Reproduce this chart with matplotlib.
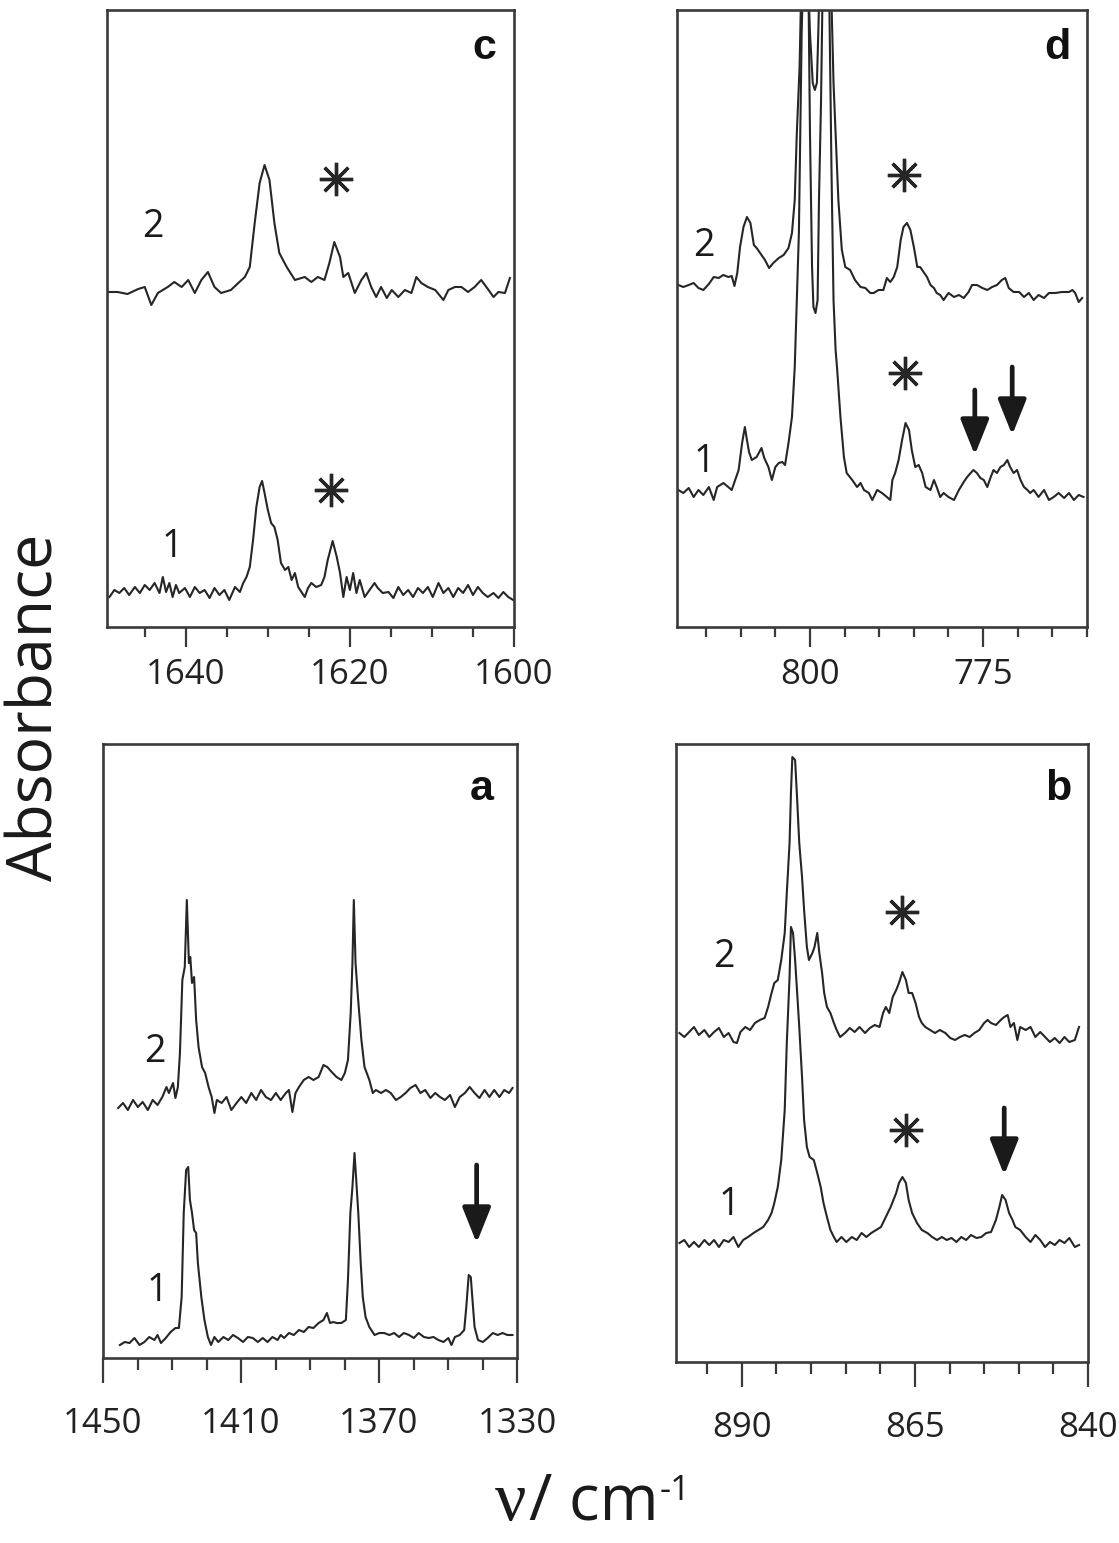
import numpy as np
import matplotlib
matplotlib.use("Agg")
import matplotlib.pyplot as plt
from matplotlib.ticker import MultipleLocator

plt.rcParams['font.family'] = ['Open Sans', 'DejaVu Sans']

# ---- panel c (1650-1600 cm-1) ----
c2_x = [1649.5,1648.3,1647.1,1645.8,1645.0,1644.2,1643.4,1642.2,1641.4,1640.5,
        1639.7,1638.9,1638.1,1637.3,1636.5,1635.7,1634.5,1633.6,1632.8,1632.2,
        1631.6,1631.0,1630.4,1629.8,1629.2,1628.6,1627.7,1626.7,1625.5,1624.7,
        1623.9,1623.1,1622.5,1621.9,1621.2,1620.8,1620.2,1619.4,1618.6,1618.0,
        1617.4,1616.8,1616.2,1615.5,1614.9,1614.1,1613.3,1612.5,1611.9,1611.3,
        1610.5,1609.6,1608.6,1608.0,1607.2,1606.4,1605.6,1604.8,1604.0,1603.1,
        1602.5,1601.9,1601.1,1600.5]
c2_y = [335,335,333,338,340,322,334,340,345,340,
        347,334,347,355,340,334,337,344,350,360,
        404,444,462,447,404,374,360,347,350,345,
        350,347,364,385,370,350,354,334,347,354,
        340,330,340,329,337,330,337,334,350,344,
        340,337,327,337,340,340,335,340,347,337,
        330,335,334,349]
c1_x = [1649.3,1648.7,1648.1,1647.5,1646.9,1646.2,1645.6,1645.0,1644.4,1643.8,
        1643.2,1642.8,1642.4,1642.0,1641.6,1641.2,1640.8,1640.1,1639.5,1638.9,
        1638.3,1637.7,1637.1,1636.5,1635.9,1635.3,1634.7,1634.0,1633.4,1633.0,
        1632.6,1632.2,1631.8,1631.4,1631.0,1630.7,1630.4,1630.0,1629.6,1629.2,
        1628.8,1628.4,1627.9,1627.5,1627.1,1626.7,1626.3,1625.9,1625.5,1625.1,
        1624.7,1624.1,1623.5,1623.1,1622.7,1622.1,1621.6,1621.2,1620.8,1620.4,
        1620.0,1619.6,1619.2,1618.8,1618.2,1617.6,1617.0,1616.6,1616.0,1615.3,
        1614.7,1614.1,1613.5,1612.9,1612.3,1611.7,1611.1,1610.5,1609.9,1609.2,
        1608.6,1608.0,1607.4,1606.8,1606.2,1605.6,1605.0,1604.4,1603.8,1603.2,
        1602.5,1601.9,1601.3,1600.7,1600.1]
c1_y = [30,37,34,39,32,40,34,42,37,44,
        34,50,35,44,30,42,34,39,30,40,
        34,37,29,39,32,37,27,40,35,44,
        50,60,87,120,140,146,134,117,104,100,
        87,64,57,60,47,54,40,35,30,39,
        44,40,42,50,67,86,70,54,30,50,
        37,54,34,47,30,37,44,39,34,35,
        29,40,32,37,30,39,34,40,30,44,
        34,39,30,39,34,42,32,40,34,30,
        34,29,35,30,27]

# ---- panel d (820-760 cm-1) ----
d2_x = [819.0,818.3,817.5,816.8,816.1,815.4,814.6,813.9,813.2,812.5,
        811.8,811.3,810.9,810.5,810.1,809.6,809.1,808.6,808.1,807.7,
        807.2,806.5,805.9,805.3,804.5,803.8,803.1,802.6,802.2,801.9,
        801.5,801.3,800.9,800.4,800.2,800.0,799.7,799.5,799.2,798.9,
        798.7,798.4,798.2,797.9,797.3,796.9,796.6,796.2,795.9,795.4,
        794.9,794.2,793.5,792.7,792.0,791.3,790.8,790.1,789.4,788.9,
        788.4,787.9,787.4,786.9,786.5,786.0,785.5,785.0,784.5,784.1,
        783.6,783.1,782.6,782.1,781.7,781.2,780.7,780.0,779.2,778.5,
        777.8,777.1,776.6,775.9,775.1,774.4,773.7,773.0,772.3,771.8,
        771.3,770.6,769.8,769.1,768.4,767.7,767.0,766.2,765.5,764.6,
        763.6,762.6,762.1,761.7,761.2,760.7]
d2_y = [342,340,342,344,339,337,343,350,349,352,
        350,351,341,354,380,400,410,404,382,379,
        374,367,359,364,369,372,379,394,427,494,
        560,627,677,677,627,494,360,320,314,327,
        427,527,627,677,677,627,544,477,427,377,
        360,357,347,340,339,334,334,337,337,349,
        345,350,360,387,400,404,397,380,360,360,
        355,350,342,339,334,332,327,334,330,332,
        329,335,342,342,339,337,340,342,347,349,
        339,335,335,330,334,327,332,329,334,334,
        335,335,337,334,325,329]
d1_x = [819.0,818.3,817.5,816.8,816.1,815.4,814.6,813.9,813.4,812.5,
        811.8,811.3,810.8,810.3,809.8,809.4,809.1,808.8,808.4,807.7,
        807.0,806.6,806.0,805.5,805.0,804.5,804.0,803.6,803.1,802.6,
        802.2,801.9,801.6,801.4,801.2,800.9,800.4,800.0,799.6,799.3,
        799.0,798.8,798.5,797.3,796.9,796.6,796.3,796.1,795.6,795.1,
        794.7,793.9,793.2,792.7,792.2,791.5,791.0,790.3,789.6,788.9,
        788.4,788.1,787.7,787.2,786.7,786.2,785.7,785.3,784.8,784.3,
        783.8,783.3,782.6,782.1,781.7,781.2,780.7,780.0,779.2,778.5,
        777.8,777.3,776.8,776.4,775.9,775.4,774.9,774.4,773.9,773.5,
        773.0,772.5,772.0,771.5,771.1,770.6,770.1,769.6,769.1,768.6,
        768.2,767.7,767.0,766.2,765.5,764.8,764.1,763.3,762.6,761.9,
        761.2,760.5]
d1_y = [137,134,139,130,137,132,140,127,140,144,
        140,137,147,157,184,200,187,175,167,170,
        179,169,160,147,160,164,165,162,184,210,
        260,327,394,494,594,677,677,594,544,537,
        544,594,677,677,460,327,277,260,210,170,
        154,147,140,144,137,134,127,137,134,130,
        127,147,154,167,187,204,197,177,160,162,
        154,140,137,147,140,130,134,130,127,137,
        145,150,154,157,154,149,147,140,150,157,
        154,160,162,167,160,154,157,147,140,137,
        134,137,130,137,127,130,134,129,134,127,
        132,130]

# ---- panel a (1450-1330 cm-1) ----
a2_x = [1445.6,1444.2,1442.8,1441.3,1439.9,1438.5,1437.0,1435.6,1434.2,1432.8,
        1431.6,1430.9,1429.7,1429.0,1428.3,1427.7,1427.0,1426.3,1425.7,1425.1,
        1424.7,1424.2,1423.6,1423.0,1422.3,1421.3,1420.4,1419.4,1418.5,1417.7,
        1417.0,1415.6,1414.2,1412.8,1411.3,1409.9,1408.5,1407.0,1405.6,1404.2,
        1402.8,1401.3,1399.9,1398.5,1397.0,1396.1,1395.1,1394.2,1393.2,1391.8,
        1390.4,1389.0,1387.5,1386.1,1385.0,1383.7,1382.3,1380.9,1379.9,1379.0,
        1378.2,1377.7,1377.3,1376.8,1376.1,1375.1,1374.2,1372.8,1371.8,1370.9,
        1369.4,1368.0,1366.6,1365.1,1363.7,1362.3,1360.9,1359.4,1358.0,1356.6,
        1355.1,1353.7,1352.3,1350.9,1349.4,1348.0,1346.6,1345.1,1343.7,1342.3,
        1340.9,1339.4,1338.0,1336.6,1335.1,1333.7,1332.3,1331.3]
a2_y = [250,255,248,258,251,256,248,258,253,261,
        271,265,275,260,271,305,378,391,458,395,
        401,375,381,338,311,291,285,271,261,245,
        258,255,261,248,255,261,255,265,258,268,
        261,258,265,258,265,268,246,265,271,278,
        281,278,281,293,291,286,281,278,285,298,
        345,395,458,395,361,318,291,278,265,268,
        265,268,265,258,261,265,270,273,265,268,
        260,265,261,258,263,251,261,265,271,265,
        260,268,261,268,261,268,265,270]
a1_x = [1445.1,1443.7,1442.3,1440.9,1439.4,1438.0,1436.6,1435.1,1434.2,1433.2,
        1431.8,1430.4,1429.0,1428.0,1427.2,1426.6,1425.9,1425.3,1424.8,1424.2,
        1423.6,1423.0,1422.5,1421.5,1420.6,1419.6,1418.7,1417.7,1416.6,1415.1,
        1413.7,1412.3,1410.9,1409.4,1408.0,1406.6,1405.1,1403.7,1402.3,1400.9,
        1399.4,1398.5,1397.5,1396.1,1394.7,1393.2,1391.8,1390.4,1389.0,1387.5,
        1386.1,1385.1,1384.2,1383.2,1382.3,1380.9,1379.6,1379.0,1378.3,1377.7,
        1377.1,1376.6,1376.0,1375.3,1374.7,1373.9,1372.8,1371.3,1369.9,1368.5,
        1367.0,1365.6,1364.2,1362.8,1361.3,1359.9,1358.5,1357.0,1355.6,1354.2,
        1352.8,1351.3,1349.9,1349.0,1348.0,1346.6,1345.3,1344.7,1344.0,1343.4,
        1342.9,1342.3,1341.3,1339.9,1338.5,1337.0,1335.6,1334.2,1332.8,1331.3]
a1_y = [13,16,15,20,13,16,21,18,23,15,
        20,26,30,30,61,145,188,191,158,145,
        128,125,95,61,38,21,13,21,16,21,
        18,23,20,16,21,20,16,20,16,21,
        18,23,20,25,23,28,26,31,30,35,
        38,45,35,36,35,35,38,78,145,171,
        205,178,145,95,61,41,31,23,25,25,
        23,25,21,25,23,20,25,21,20,21,
        18,16,20,13,21,23,28,51,83,81,
        58,31,18,16,20,25,23,25,23,23]

# ---- panel b (900-840 cm-1) ----
b2_x = [899.0,898.3,897.6,896.9,896.2,895.4,894.7,894.0,893.3,892.6,
        891.9,891.2,890.7,890.2,889.5,888.8,888.1,887.4,886.7,886.2,
        885.7,885.3,884.8,884.3,883.8,883.5,883.1,882.9,882.7,882.3,
        882.0,881.7,881.3,881.0,880.6,880.3,879.8,879.5,879.1,878.8,
        878.4,878.1,877.7,877.2,876.7,876.3,875.8,875.1,874.4,873.7,
        873.0,872.2,871.5,870.8,870.1,869.6,869.2,868.7,868.2,867.7,
        867.3,866.8,866.3,865.9,865.4,864.9,864.4,864.0,863.5,862.8,
        862.1,861.4,860.6,859.9,859.2,858.5,857.8,857.1,856.4,855.7,
        855.0,854.5,854.0,853.3,852.6,852.1,851.6,851.2,850.7,850.2,
        849.8,849.0,848.3,847.6,846.9,846.2,845.5,844.8,844.1,843.4,
        842.7,841.9,841.3]
b2_y = [329,325,330,335,327,332,325,330,334,325,
        329,320,319,330,335,332,339,342,344,355,
        369,379,382,402,429,469,519,569,605,602,
        562,519,485,452,415,402,409,415,429,409,
        389,369,355,349,339,332,325,329,334,330,
        335,329,334,337,335,349,355,349,365,372,
        379,390,382,369,369,359,345,339,335,332,
        329,332,329,324,322,325,327,325,329,332,
        339,342,339,337,342,345,347,335,339,322,
        335,332,335,325,330,325,320,324,319,325,
        320,322,335]
b1_x = [899.0,898.3,897.6,896.9,896.2,895.4,894.7,894.0,893.3,892.6,
        891.9,891.2,890.5,889.8,889.1,888.3,887.6,886.9,886.2,885.7,
        885.3,884.8,884.3,883.8,883.5,883.1,882.9,882.6,882.3,882.0,
        881.7,881.3,881.0,880.6,880.2,879.6,879.1,878.6,878.2,877.7,
        877.2,876.7,876.3,875.6,874.9,874.1,873.4,872.7,872.0,871.3,
        870.6,869.9,869.2,868.5,867.7,867.3,866.8,866.3,865.9,865.4,
        864.7,864.0,863.2,862.5,861.8,861.1,860.4,859.7,859.0,858.3,
        857.6,856.9,856.1,855.4,854.7,854.0,853.3,852.8,852.4,851.9,
        851.4,850.9,850.5,849.8,849.0,848.3,847.6,846.9,846.2,845.5,
        844.8,844.1,843.4,842.7,841.9,841.3]
b1_y = [119,122,115,120,115,122,117,122,115,122,
        120,125,115,122,125,129,132,135,142,149,
        159,175,202,252,319,385,435,429,402,369,
        335,285,242,215,205,202,189,175,159,145,
        132,125,120,125,120,125,122,129,125,129,
        132,135,145,155,169,179,185,179,162,149,
        139,132,129,125,122,125,122,124,120,125,
        122,127,124,125,129,130,142,155,167,162,
        149,142,135,132,125,120,127,122,115,120,
        117,122,119,124,115,117]

# annotation positions (wavenumber, absorbance)
c_labels = [(1644.0, 390, '2'), (1641.7, 70, '1')]
c_stars = [(1621.7, 448), (1622.3, 137)]
d_labels = [(815.3, 371, '2'), (815.2, 155, '1')]
d_stars = [(786.4, 452), (786.3, 254)]
d_arrows = [(776.2, 237, 172), (770.8, 260, 192)]
a_labels = [(1435.1, 296, '2'), (1434.3, 57, '1')]
a_arrows = [(1341.7, 193, 115)]
b_labels = [(892.6, 395, '2'), (891.8, 147, '1')]
b_stars = [(866.8, 450), (866.3, 232)]
b_arrows = [(852.1, 254, 187)]

W, H = 1119, 1543
fig = plt.figure(figsize=(W / 100, H / 100), dpi=100)
ink = '#262626'


def panel(l, r, t, b, xlim, top, majors, minor, letter, big):
    ax = fig.add_axes([l / W, 1 - b / H, (r - l) / W, (b - t) / H])
    ax.set_xlim(*xlim)
    ax.set_ylim(0, top)
    ax.set_yticks([])
    ax.set_xticks(majors)
    ax.xaxis.set_minor_locator(MultipleLocator(minor))
    for s in ax.spines.values():
        s.set_linewidth(1.9)
        s.set_color('#3a3a3a')
    if big:
        ax.tick_params(axis='x', which='major', length=18, width=1.6, pad=17.5,
                       labelsize=25, colors='#3a3a3a', labelcolor='#222222')
        ax.tick_params(axis='x', which='minor', length=8.5, width=1.6, colors='#3a3a3a')
    else:
        ax.tick_params(axis='x', which='major', length=14.5, width=1.6, pad=7.5,
                       labelsize=25, colors='#3a3a3a', labelcolor='#222222')
        ax.tick_params(axis='x', which='minor', length=7.5, width=1.6, colors='#3a3a3a')
    ax.text(letter[0], letter[1], letter[2], transform=ax.transAxes, fontsize=31,
            fontweight='bold', family=['Liberation Sans', 'DejaVu Sans'],
            ha='center', va='baseline', color='#111111')
    return ax


def decorate(ax, labels, stars=(), arrows=()):
    for x, y, s in labels:
        ax.text(x, y, s, fontsize=27, ha='center', va='baseline', color='#1a1a1a')
    for x, y in stars:
        ax.plot([x], [y], linestyle='none', marker=(8, 2, 0), ms=24, mew=2.4, color=ink)
    for x, y0, y1 in arrows:
        ax.annotate('', xy=(x, y1), xytext=(x, y0),
                    arrowprops=dict(arrowstyle='-|>,head_length=0.9,head_width=0.36',
                                    lw=3.4, color='#1a1a1a', mutation_scale=24,
                                    shrinkA=0, shrinkB=0))


ax_c = panel(107, 514, 10, 627, (1649.6, 1600), 617, [1640, 1620, 1600], 5,
             (0.926, 0.921, 'c'), False)
ax_c.plot(c2_x, c2_y, color=ink, lw=1.5)
ax_c.plot(c1_x, c1_y, color=ink, lw=1.5)
decorate(ax_c, c_labels, c_stars)

ax_d = panel(677, 1087, 10, 627, (819.2, 760), 617, [800, 775], 5,
             (0.927, 0.921, 'd'), False)
ax_d.plot(d2_x, d2_y, color=ink, lw=1.5)
ax_d.plot(d1_x, d1_y, color=ink, lw=1.5)
decorate(ax_d, d_labels, d_stars, d_arrows)

ax_a = panel(103, 517, 744, 1358, (1450, 1330), 614, [1450, 1410, 1370, 1330], 10,
             (0.915, 0.909, 'a'), True)
ax_a.plot(a2_x, a2_y, color=ink, lw=1.5)
ax_a.plot(a1_x, a1_y, color=ink, lw=1.5)
decorate(ax_a, a_labels, (), a_arrows)

ax_b = panel(676, 1088, 744, 1362, (899.5, 840), 618, [890, 865, 840], 5,
             (0.927, 0.909, 'b'), True)
ax_b.plot(b2_x, b2_y, color=ink, lw=1.5)
ax_b.plot(b1_x, b1_y, color=ink, lw=1.5)
decorate(ax_b, b_labels, b_stars, b_arrows)

# y label: baseline on x=53, centred on y=707
fig.text(53 / W, 1 - 707 / H, 'Absorbance', rotation=90, rotation_mode='anchor',
         fontsize=45, ha='center', va='baseline', color='#1a1a1a')

# x label built from pieces: nu, "/ cm", superscript "-1"
renderer = fig.canvas.get_renderer()
t1 = fig.text(495 / W, 1 - 1520 / H, 'ν', fontsize=50, va='baseline',
              family=['Liberation Serif', 'DejaVu Serif'], color='#1a1a1a')
x1 = t1.get_window_extent(renderer).x1
t2 = fig.text(x1 / W + 0.002, 1 - 1520 / H, '/ cm', fontsize=46, va='baseline',
              color='#1a1a1a')
x2 = t2.get_window_extent(renderer).x1
fig.text(x2 / W + 0.001, 1 - 1500 / H, '-1', fontsize=25, va='baseline',
         color='#1a1a1a')

fig.savefig('out.png', dpi=100)
